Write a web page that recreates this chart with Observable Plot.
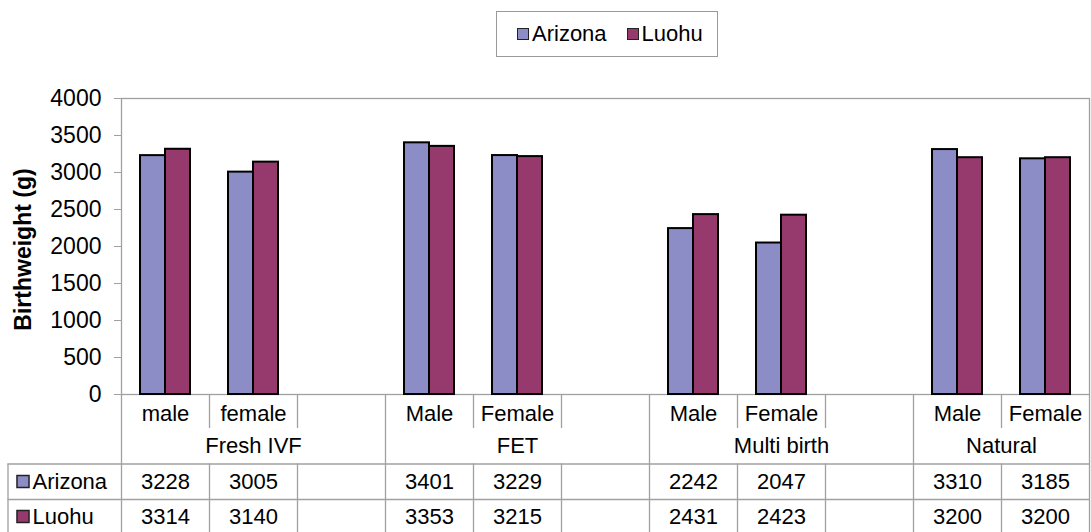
<!DOCTYPE html>
<html><head><meta charset="utf-8">
<script src="https://cdn.jsdelivr.net/npm/d3@7"></script>
<script src="https://cdn.jsdelivr.net/npm/@observablehq/plot@0.6"></script>
<style>
body{margin:0;background:#fff;font-family:"Liberation Sans",Arial,sans-serif;}
#wrap{position:relative;width:1091px;height:532px;overflow:hidden;background:#fff;}
#chart{position:absolute;left:0;top:0;}
#legend{position:absolute;left:496px;top:11px;width:220px;height:44px;border:1px solid #9a9a9a;display:flex;align-items:center;font-size:22px;color:#000;box-sizing:content-box;}
.item{display:flex;align-items:center;}
.sw{width:10px;height:10px;border:1.5px solid #222;margin-right:3px;}
</style></head><body>
<div id="wrap"><div id="chart"></div><div id="legend"></div></div>
<script>
// ---- data ----
const groups = ["Fresh IVF", "FET", "Multi birth", "Natural"];
const sexLabels = [["male", "female"], ["Male", "Female"], ["Male", "Female"], ["Male", "Female"]];
const seriesNames = ["Arizona", "Luohu"];
const arizona = [3228, 3005, 3401, 3229, 2242, 2047, 3310, 3185];
const luohu = [3314, 3140, 3353, 3215, 2431, 2423, 3200, 3200];
const yTicks = [0, 500, 1000, 1500, 2000, 2500, 3000, 3500, 4000];
const yLabel = "Birthweight (g)";
const colors = ["#8C8CC6", "#963A6E"];

// ---- build slots (Excel-style category axis with blank separators) ----
const slots = [], cats = [], spans = [];
groups.forEach((g, gi) => {
  const start = slots.length;
  sexLabels[gi].forEach(s => { const key = g + "|" + s; slots.push(key); cats.push({slot: key, label: s}); });
  if (gi < groups.length - 1) slots.push(g + "|");
  spans.push({group: g, start, end: slots.length - 1});
});
const seriesValues = [arizona, luohu];
const long = [];
seriesNames.forEach((s, k) => cats.forEach((c, i) => long.push({series: s, slot: c.slot, value: seriesValues[k][i]})));

// ---- layout ----
const W = 1091, H = 532, ML = 121, MR = 2, MT = 98, MB = 138;
const bw = (W - ML - MR) / slots.length;
const barW = 25;
const frameH = H - MT - MB;
const gray = "#a0a0a0";
const fs = 22;
const rowDy = [87, 122];       // value rows below the axis
const catDy = 19, grpDy = 51;  // category and group label rows
const rowLine = [69.5, 105];   // table horizontal lines below the axis
const tableLeft = 7.5;
const shortLine = 34;

const groupStartIdx = new Set(spans.map(s => s.start));
const innerSlots = slots.filter((s, i) => !groupStartIdx.has(i));
const groupSlots = slots.filter((s, i) => groupStartIdx.has(i));

const marks = [];
// table grid
rowLine.forEach(off => marks.push(Plot.ruleY([0], {dy: off, insetLeft: -(ML - tableLeft), stroke: gray, strokeWidth: 1.3})));
marks.push(Plot.ruleX(groupSlots, {x: d => d, dx: -bw / 2, insetTop: frameH, insetBottom: -MB, stroke: gray, strokeWidth: 1.3}));
marks.push(Plot.ruleX([slots[slots.length - 1]], {x: d => d, dx: bw / 2, insetTop: frameH, insetBottom: -MB, stroke: gray, strokeWidth: 1.3}));
marks.push(Plot.ruleX(innerSlots, {x: d => d, dx: -bw / 2, insetTop: frameH, insetBottom: -shortLine, stroke: gray, strokeWidth: 1.3}));
marks.push(Plot.ruleX(innerSlots, {x: d => d, dx: -bw / 2, insetTop: frameH + rowLine[0], insetBottom: -MB, stroke: gray, strokeWidth: 1.3}));
marks.push(Plot.ruleX([slots[0]], {x: d => d, dx: -bw / 2 - (ML - tableLeft), insetTop: frameH + rowLine[0], insetBottom: -MB, stroke: gray, strokeWidth: 1.3}));

marks.push(Plot.frame({stroke: gray, strokeWidth: 1.3}));
marks.push(Plot.axisY({ticks: yTicks, tickSize: 7, tickPadding: 13, fontSize: 23, label: null, stroke: gray, tickFormat: d => String(d)}));
marks.push(Plot.text([yLabel], {frameAnchor: "left", dx: -98, dy: 3, rotate: -90, textAnchor: "middle", lineAnchor: "middle", fontWeight: "bold", fontSize: 23}));

// bars
seriesNames.forEach((s, k) => marks.push(Plot.barY(long.filter(d => d.series === s), {
  x: "slot", y: "value", fill: "series", stroke: "#000", strokeWidth: 2,
  insetLeft: k === 0 ? bw / 2 - barW : bw / 2,
  insetRight: k === 0 ? bw / 2 : bw / 2 - barW
})));

// category labels
marks.push(Plot.text(cats, {x: "slot", text: "label", frameAnchor: "bottom", lineAnchor: "middle", dy: catDy, fontSize: fs}));
// group labels
spans.forEach(sp => {
  const mid = (sp.start + sp.end) / 2, base = Math.floor(mid);
  marks.push(Plot.text([sp], {x: () => slots[base], text: "group", frameAnchor: "bottom", lineAnchor: "middle", dx: (mid - base) * bw, dy: grpDy, fontSize: fs}));
});
// value rows + row headers
seriesNames.forEach((s, k) => {
  marks.push(Plot.text(long.filter(d => d.series === s), {x: "slot", text: d => String(d.value), frameAnchor: "bottom", lineAnchor: "middle", dy: rowDy[k], fontSize: fs}));
  marks.push(Plot.text([s], {frameAnchor: "bottom-left", lineAnchor: "middle", dx: 32 - ML, dy: rowDy[k], textAnchor: "start", fontSize: fs}));
  marks.push(Plot.dot([s], {frameAnchor: "bottom-left", dx: 22.5 - ML, dy: rowDy[k], symbol: "square", r: 6.8, fill: d => d, stroke: "#222", strokeWidth: 1.5}));
});

const chart = Plot.plot({
  width: W, height: H,
  marginTop: MT, marginBottom: MB, marginLeft: ML, marginRight: MR,
  x: {domain: slots, padding: 0, axis: null},
  y: {domain: [0, 4000], axis: null},
  color: {domain: seriesNames, range: colors},
  style: {fontFamily: "'Liberation Sans', Arial, sans-serif", fontSize: fs + "px", color: "#000", background: "#fff", overflow: "visible"},
  marks
});
document.getElementById("chart").appendChild(chart);

// legend
const leg = d3.select("#legend");
seriesNames.forEach((s, k) => {
  const it = leg.append("div").attr("class", "item").style("margin-left", k === 0 ? "20px" : "20px");
  it.append("div").attr("class", "sw").style("background", colors[k]);
  it.append("span").text(s);
});
</script>
</body></html>
